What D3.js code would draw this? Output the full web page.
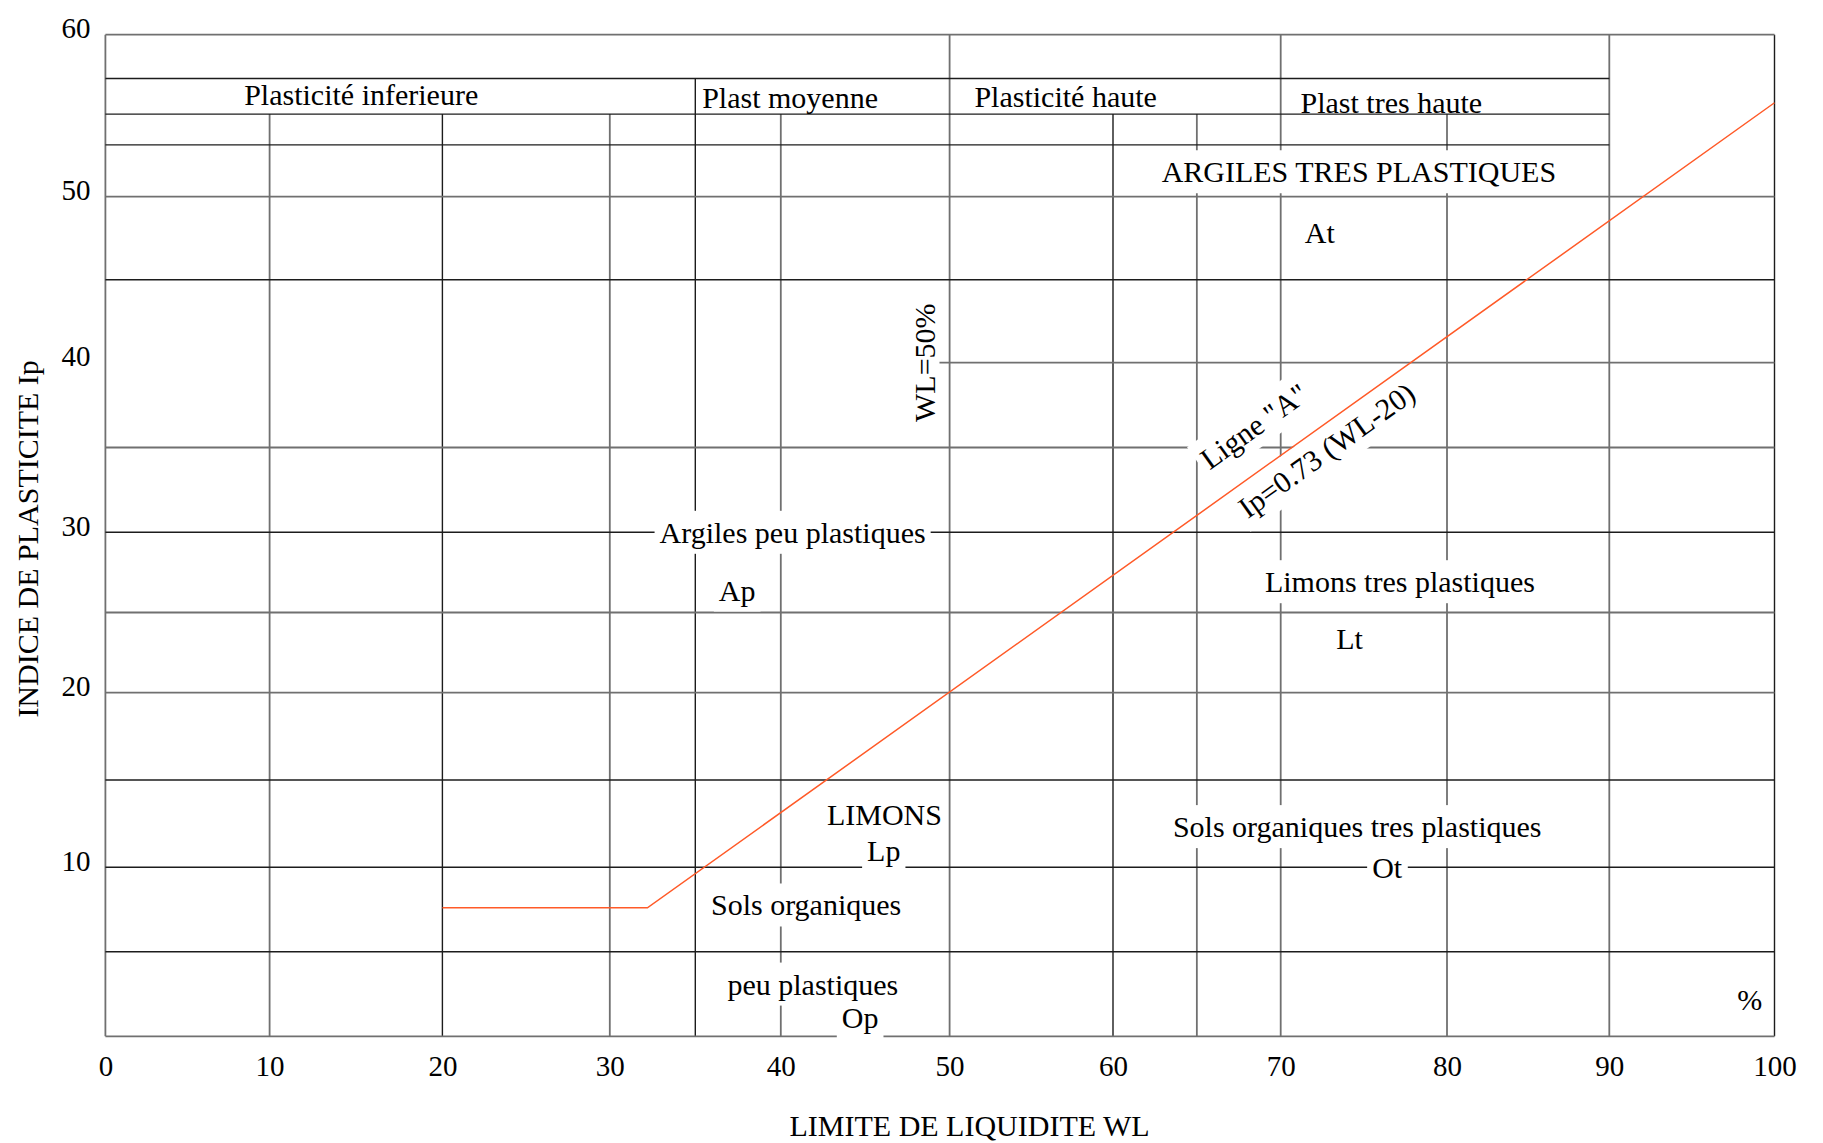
<!DOCTYPE html>
<html>
<head>
<meta charset="utf-8">
<script src="https://cdn.jsdelivr.net/npm/d3@7"></script>
<style>
  html, body { margin: 0; padding: 0; background: #fff; }
  svg { display: block; }
  text { font-family: "Liberation Serif", "Times New Roman", serif; fill: #000; }
</style>
</head>
<body>
<svg id="chart" width="1823" height="1143"></svg>
<script>
// Casagrande plasticity chart: liquid limit WL (%) against plasticity index Ip

// Axis ticks
const wlTicks = [0, 10, 20, 30, 40, 50, 60, 70, 80, 90, 100];
const ipTicks = [10, 20, 30, 40, 50, 60];

// Vertical grid lines (WL value and the Ip where each one stops at the top)
const gridWL    = [0, 10, 20, 30, 35, 40, 50, 60, 65, 70, 80, 90, 100];
const gridWLTop = [60, 55.1, 55.1, 55.1, 57.3, 55.1, 60, 55.1, 55.1, 60, 55.1, 60, 60];

// Horizontal grid lines (Ip value and WL extent)
const gridIP     = [0, 5, 10, 15, 20, 25, 30, 35, 40, 45, 50, 53.2, 55.1, 57.3, 60];
const gridIPFrom = [0, 0, 0, 0, 0, 0, 0, 0, 49.4, 0, 0, 0, 0, 0, 0];
const gridIPTo   = [100, 100, 100, 100, 100, 100, 100, 100, 100, 100, 100, 90, 90, 90, 100];

// Line "A": horizontal foot then Ip = 0.73 (WL - 20)
const aLineWL = [20, 32.2, 100];
const aLineIP = [7.6, 7.6, 55.8];

// Plasticity band headings across the top
const bandText = ["Plasticité inferieure", "Plast moyenne", "Plasticité haute", "Plast tres haute"];
const bandWL   = [15.3, 40.55, 57.1, 76.65];
const bandIP   = [56.3, 56.1, 56.2, 55.83];

// Soil class zones
const zoneText = ["ARGILES TRES PLASTIQUES", "At", "Argiles peu plastiques", "Ap",
                  "Limons tres plastiques", "Lt", "LIMONS", "Lp",
                  "Sols organiques tres plastiques", "Ot", "Sols organiques",
                  "peu plastiques", "Op", "%"];
const zoneWL   = [74.7, 72.35, 40.7, 37.45, 77.17, 74.14, 46.14, 46.1, 74.6, 76.4, 41.5, 41.9, 44.7, 98.5];
const zoneIP   = [51.54, 47.87, 30, 26.4, 26.92, 23.39, 13.0, 10.99, 12.33, 10, 7.77, 3.09, 1.11, 2.15];

// Notes written along line "A"
const noteText = ['Ligne "A"', "Ip=0.73 (WL-20)"];
const noteWL   = [68.4, 72.75];
const noteIP   = [36.27, 34.85];

// Boundary note WL = 50%
const limitText = "WL=50%";
const limitWL = 48.5;
const limitIP = 40;

// ---------------------------------------------------------------------------
const svg = d3.select("#chart");
const FONT = 30;

// The drafted grid has slightly uneven decade spacing, so each decade is its own segment
const x = d3.scaleLinear()
  .domain(wlTicks)
  .range([105.4, 269.6, 442.4, 609.8, 780.8, 949.6, 1113, 1280.7, 1447, 1609.3, 1774.5]);
const y = d3.scaleLinear()
  .domain([0].concat(ipTicks))
  .range([1036.3, 867.3, 692.7, 532.3, 362.7, 196.7, 34.7]);

const darkWL = new Set([20, 35, 60, 100]);
const darkIP = new Set([5, 10, 15, 30, 45, 53.2, 55.1, 57.3]);

const grid = svg.append("g").attr("class", "grid");

grid.selectAll("line.v")
  .data(gridWL.map((v, i) => ({ v, top: gridWLTop[i] })))
  .join("line")
  .attr("class", "v")
  .attr("x1", d => x(d.v)).attr("x2", d => x(d.v))
  .attr("y1", y(0)).attr("y2", d => y(d.top))
  .attr("stroke", d => darkWL.has(d.v) ? "#1c1c1c" : "#707070")
  .attr("stroke-width", d => darkWL.has(d.v) ? 1.4 : 1.8);

grid.selectAll("line.h")
  .data(gridIP.map((v, i) => ({ v, from: gridIPFrom[i], to: gridIPTo[i] })))
  .join("line")
  .attr("class", "h")
  .attr("x1", d => x(d.from)).attr("x2", d => x(d.to))
  .attr("y1", d => y(d.v)).attr("y2", d => y(d.v))
  .attr("stroke", d => darkIP.has(d.v) ? "#1c1c1c" : "#707070")
  .attr("stroke-width", d => darkIP.has(d.v) ? 1.4 : 1.8);

// Angle of the sloping part of line "A", in screen space
const slopeAngle = Math.atan2(y(aLineIP[2]) - y(aLineIP[1]), x(aLineWL[2]) - x(aLineWL[1])) * 180 / Math.PI;

// Layers: white knock-outs behind labels, then line "A", then the text
const bgLayer = svg.append("g");
const lineLayer = svg.append("g");
const textLayer = svg.append("g");

function label(txt, wl, ip, angle, knockout) {
  const tx = `translate(${x(wl)},${y(ip)}) rotate(${angle})`;
  const t = textLayer.append("text")
    .attr("transform", tx)
    .attr("text-anchor", "middle")
    .attr("dy", "0.35em")
    .attr("font-size", FONT)
    .text(txt);
  if (knockout) {
    const b = t.node().getBBox();
    const pad = 5;
    bgLayer.append("rect")
      .attr("transform", tx)
      .attr("x", b.x - pad).attr("y", b.y - pad)
      .attr("width", b.width + 2 * pad).attr("height", b.height + 2 * pad)
      .attr("fill", "#fff");
  }
}

bandText.forEach((s, i) => label(s, bandWL[i], bandIP[i], 0, false));
zoneText.forEach((s, i) => label(s, zoneWL[i], zoneIP[i], 0, true));
noteText.forEach((s, i) => label(s, noteWL[i], noteIP[i], slopeAngle, true));
label(limitText, limitWL, limitIP, -90, false);

lineLayer.append("path")
  .datum(aLineWL.map((v, i) => [v, aLineIP[i]]))
  .attr("d", d3.line().x(d => x(d[0])).y(d => y(d[1])))
  .attr("fill", "none")
  .attr("stroke", "#ff5a28")
  .attr("stroke-width", 1.5);

// Axes: tick labels only, the frame is part of the grid
const xAxis = svg.append("g")
  .attr("transform", `translate(0,${y(0)})`)
  .call(d3.axisBottom(x).tickValues(wlTicks).tickSize(0).tickPadding(19).tickFormat(d3.format("d")));
const yAxis = svg.append("g")
  .attr("transform", `translate(${x(0)},0)`)
  .call(d3.axisLeft(y).tickValues(ipTicks).tickSize(0).tickPadding(15).tickFormat(d3.format("d")));
[xAxis, yAxis].forEach(a => {
  a.select(".domain").remove();
  a.selectAll("text")
    .attr("font-family", '"Liberation Serif", "Times New Roman", serif')
    .attr("font-size", 29)
    .attr("fill", "#000");
});
yAxis.selectAll(".tick text").attr("y", -6);

// Axis titles
svg.append("text")
  .attr("x", 969.6).attr("y", 1125)
  .attr("dy", "0.35em")
  .attr("text-anchor", "middle")
  .attr("font-size", FONT)
  .text("LIMITE DE LIQUIDITE WL");

svg.append("text")
  .attr("transform", "translate(27.9,538.9) rotate(-90)")
  .attr("dy", "0.35em")
  .attr("text-anchor", "middle")
  .attr("font-size", FONT)
  .text("INDICE DE PLASTICITE Ip");
</script>
</body>
</html>
